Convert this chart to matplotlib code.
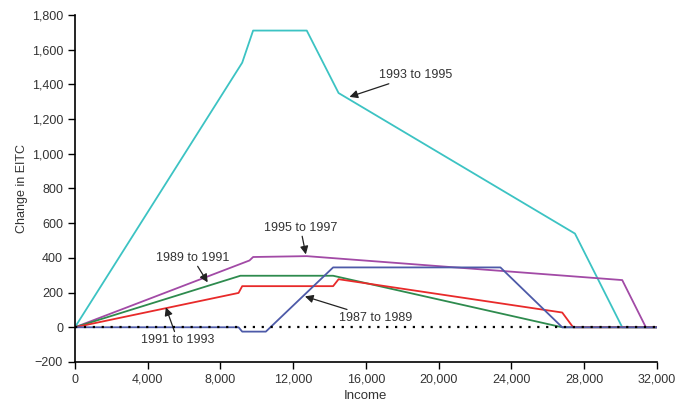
import numpy as np
import matplotlib.pyplot as plt

plt.rcParams['font.family'] = ['Liberation Sans', 'DejaVu Sans']

# change in EITC by income, for each legislative period
inc_8789 = [0, 9000, 9200, 10500, 14200, 23400, 26800, 32000]
chg_8789 = [0, 0, -25, -25, 345, 345, 0, 0]

inc_8991 = [0, 9100, 14200, 26800, 32000]
chg_8991 = [0, 297, 297, 0, 0]

inc_9193 = [0, 9000, 9200, 14200, 14500, 26800, 27400, 32000]
chg_9193 = [0, 198, 237, 237, 277, 85, 0, 0]

inc_9395 = [0, 9200, 9800, 12750, 14500, 27500, 30100, 32000]
chg_9395 = [0, 1525, 1710, 1710, 1350, 540, 0, 0]

inc_9597 = [0, 9600, 9800, 12750, 30100, 31400, 32000]
chg_9597 = [0, 385, 405, 410, 272, 0, 0]

fig = plt.figure(figsize=(6.75, 4.04), dpi=100)
ax = fig.add_axes([0.111, 0.104, 0.862, 0.859])

ax.plot(inc_9395, chg_9395, color='#3cc3c3', lw=1.3)
ax.plot(inc_9597, chg_9597, color='#a24aa6', lw=1.3)
ax.plot(inc_8991, chg_8991, color='#2e8b4e', lw=1.3)
ax.plot(inc_9193, chg_9193, color='#e82a2a', lw=1.3)
ax.plot(inc_8789, chg_8789, color='#4d5aa8', lw=1.3)
ax.plot([0, 32000], [0, 0], color='black', lw=1.6, ls=(0, (1, 3)), zorder=5)

ax.set_xlim(0, 32000)
ax.set_ylim(-200, 1800)
ax.set_xticks(np.arange(0, 32001, 4000))
ax.set_yticks(np.arange(-200, 1801, 200))
ax.set_xticklabels(['0'] + [f'{v:,}' for v in range(4000, 32001, 4000)])
ax.set_yticklabels(['\u2212200'] + [f'{v:,}' for v in range(0, 1801, 200)])
ax.tick_params(labelsize=9, length=5, width=1, colors='black', labelcolor='#333333')
for s in ['top', 'right']:
    ax.spines[s].set_visible(False)
ax.spines['left'].set_linewidth(1.2)
ax.spines['bottom'].set_linewidth(1.2)

ax.set_xlabel('Income', fontsize=9.5, color='#333333', labelpad=3)
ax.set_ylabel('Change in EITC', fontsize=9, color='#333333', labelpad=3)

arrow = dict(arrowstyle='-|>', color='#222222', lw=0.9, mutation_scale=12,
             shrinkA=0, shrinkB=0)
txt = dict(fontsize=9, color='#333333')
ax.annotate('1993 to 1995', xy=(15100, 1328), xytext=(16700, 1454),
            va='center', ha='left', arrowprops=arrow, **txt)
ax.annotate('1995 to 1997', xy=(12700, 420), xytext=(12400, 575),
            va='center', ha='center', arrowprops=arrow, **txt)
ax.annotate('1989 to 1991', xy=(7300, 259), xytext=(6450, 402),
            va='center', ha='center', arrowprops=arrow, **txt)
ax.annotate('1991 to 1993', xy=(5000, 115), xytext=(5650, -75),
            va='center', ha='center', arrowprops=arrow, **txt)
ax.annotate('1987 to 1989', xy=(12650, 178), xytext=(14500, 52),
            va='center', ha='left', arrowprops=arrow, **txt)

plt.savefig('out.png', dpi=100)
